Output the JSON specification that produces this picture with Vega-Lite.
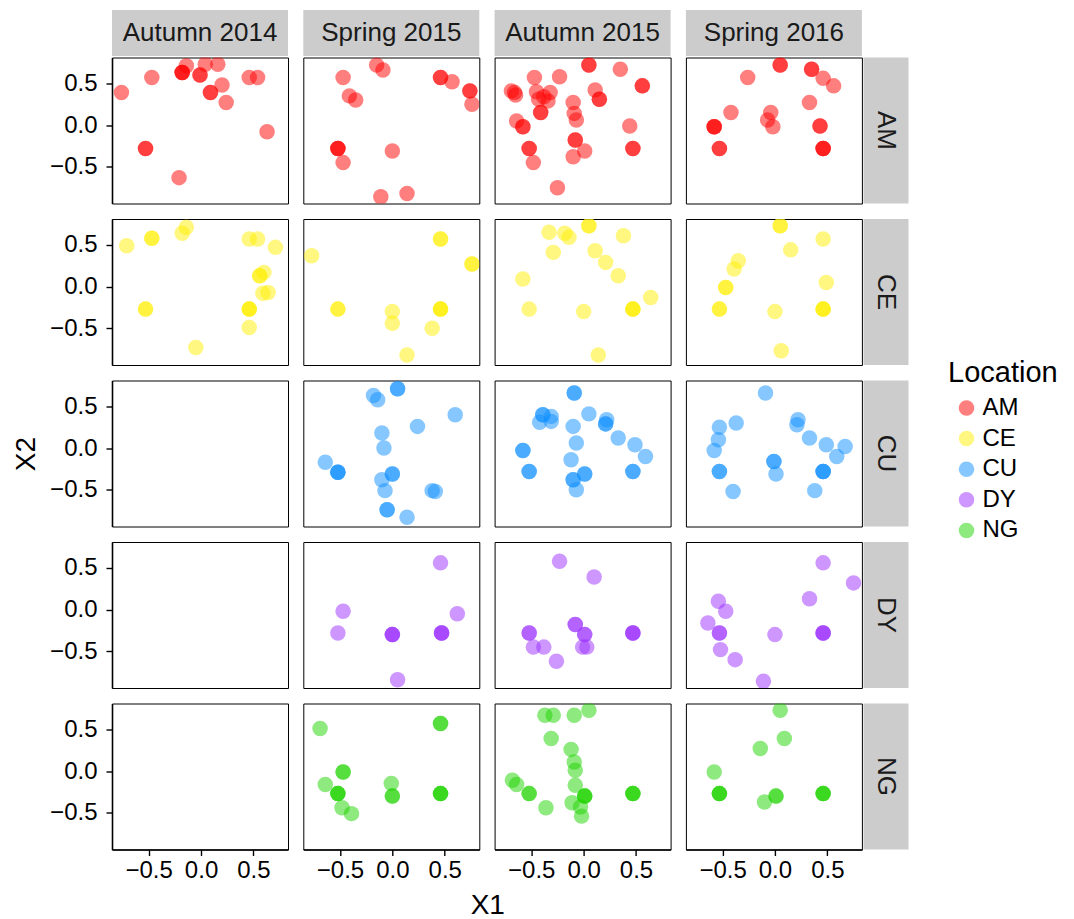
{
"$schema":"https://vega.github.io/schema/vega-lite/v6.json",
"padding":{"left":11,"top":10,"right":5,"bottom":5},
"background":"white",
"config":{
"font":"Liberation Sans",
"view":{"stroke":"#000000","strokeWidth":1},
"axis":{"grid":false,"domainColor":"#000000","domainWidth":1.6,"tickColor":"#000000","tickWidth":1.4,"tickSize":6,"labelFontSize":24,"labelColor":"#000000","labelFont":"Liberation Sans","titleFont":"Liberation Sans","titleFontSize":28,"titleFontWeight":"normal","titleColor":"#000000"},
"axisX":{"labelPadding":3},
"axisY":{"labelPadding":9,"titlePadding":10},
"legend":{"orient":"none","legendX":836,"legendY":349,"titleFontSize":29,"titleFontWeight":"normal","titleColor":"#000000","labelFontSize":24,"labelColor":"#000000","symbolSize":240,"symbolType":"circle","symbolOpacity":0.5,"rowPadding":6.6,"titlePadding":8,"symbolOffset":6.5,"labelOffset":4,"symbolStrokeWidth":0},
"range":{"category":["#FF0000","#FFEF00","#1090FF","#9B30FF","#1ED400"]},
"text":{"fontSize":26,"color":"#1A1A1A","font":"Liberation Sans"}
},
"data":{"values":[
{"S":"Autumn 2014","Location":"AM","X1":-0.76,"X2":0.39},
{"S":"Autumn 2014","Location":"AM","X1":-0.47,"X2":0.57},
{"S":"Autumn 2014","Location":"AM","X1":-0.14,"X2":0.71},
{"S":"Autumn 2014","Location":"AM","X1":-0.18,"X2":0.63},
{"S":"Autumn 2014","Location":"AM","X1":-0.18,"X2":0.63},
{"S":"Autumn 2014","Location":"AM","X1":-0.18,"X2":0.63},
{"S":"Autumn 2014","Location":"AM","X1":-0.01,"X2":0.60},
{"S":"Autumn 2014","Location":"AM","X1":-0.01,"X2":0.60},
{"S":"Autumn 2014","Location":"AM","X1":0.04,"X2":0.73},
{"S":"Autumn 2014","Location":"AM","X1":0.16,"X2":0.73},
{"S":"Autumn 2014","Location":"AM","X1":0.20,"X2":0.48},
{"S":"Autumn 2014","Location":"AM","X1":0.09,"X2":0.39},
{"S":"Autumn 2014","Location":"AM","X1":0.09,"X2":0.39},
{"S":"Autumn 2014","Location":"AM","X1":0.24,"X2":0.27},
{"S":"Autumn 2014","Location":"AM","X1":0.46,"X2":0.57},
{"S":"Autumn 2014","Location":"AM","X1":0.54,"X2":0.57},
{"S":"Autumn 2014","Location":"AM","X1":0.63,"X2":-0.08},
{"S":"Autumn 2014","Location":"AM","X1":-0.53,"X2":-0.28},
{"S":"Autumn 2014","Location":"AM","X1":-0.53,"X2":-0.28},
{"S":"Autumn 2014","Location":"AM","X1":-0.21,"X2":-0.63},
{"S":"Spring 2015","Location":"AM","X1":-0.47,"X2":0.57},
{"S":"Spring 2015","Location":"AM","X1":-0.15,"X2":0.72},
{"S":"Spring 2015","Location":"AM","X1":-0.09,"X2":0.66},
{"S":"Spring 2015","Location":"AM","X1":-0.41,"X2":0.35},
{"S":"Spring 2015","Location":"AM","X1":-0.35,"X2":0.30},
{"S":"Spring 2015","Location":"AM","X1":0.46,"X2":0.57},
{"S":"Spring 2015","Location":"AM","X1":0.46,"X2":0.57},
{"S":"Spring 2015","Location":"AM","X1":0.57,"X2":0.52},
{"S":"Spring 2015","Location":"AM","X1":0.74,"X2":0.41},
{"S":"Spring 2015","Location":"AM","X1":0.74,"X2":0.41},
{"S":"Spring 2015","Location":"AM","X1":0.76,"X2":0.25},
{"S":"Spring 2015","Location":"AM","X1":-0.52,"X2":-0.28},
{"S":"Spring 2015","Location":"AM","X1":-0.52,"X2":-0.28},
{"S":"Spring 2015","Location":"AM","X1":-0.52,"X2":-0.28},
{"S":"Spring 2015","Location":"AM","X1":-0.47,"X2":-0.45},
{"S":"Spring 2015","Location":"AM","X1":0.00,"X2":-0.31},
{"S":"Spring 2015","Location":"AM","X1":-0.11,"X2":-0.86},
{"S":"Spring 2015","Location":"AM","X1":0.14,"X2":-0.82},
{"S":"Autumn 2015","Location":"AM","X1":-0.69,"X2":0.41},
{"S":"Autumn 2015","Location":"AM","X1":-0.65,"X2":0.36},
{"S":"Autumn 2015","Location":"AM","X1":-0.66,"X2":0.39},
{"S":"Autumn 2015","Location":"AM","X1":-0.47,"X2":0.57},
{"S":"Autumn 2015","Location":"AM","X1":-0.23,"X2":0.58},
{"S":"Autumn 2015","Location":"AM","X1":0.05,"X2":0.72},
{"S":"Autumn 2015","Location":"AM","X1":0.05,"X2":0.72},
{"S":"Autumn 2015","Location":"AM","X1":0.35,"X2":0.67},
{"S":"Autumn 2015","Location":"AM","X1":0.56,"X2":0.47},
{"S":"Autumn 2015","Location":"AM","X1":0.56,"X2":0.47},
{"S":"Autumn 2015","Location":"AM","X1":-0.45,"X2":0.40},
{"S":"Autumn 2015","Location":"AM","X1":-0.43,"X2":0.31},
{"S":"Autumn 2015","Location":"AM","X1":-0.38,"X2":0.34},
{"S":"Autumn 2015","Location":"AM","X1":-0.32,"X2":0.39},
{"S":"Autumn 2015","Location":"AM","X1":-0.34,"X2":0.29},
{"S":"Autumn 2015","Location":"AM","X1":-0.41,"X2":0.15},
{"S":"Autumn 2015","Location":"AM","X1":-0.41,"X2":0.15},
{"S":"Autumn 2015","Location":"AM","X1":-0.10,"X2":0.27},
{"S":"Autumn 2015","Location":"AM","X1":-0.09,"X2":0.14},
{"S":"Autumn 2015","Location":"AM","X1":-0.07,"X2":0.06},
{"S":"Autumn 2015","Location":"AM","X1":0.11,"X2":0.42},
{"S":"Autumn 2015","Location":"AM","X1":0.15,"X2":0.31},
{"S":"Autumn 2015","Location":"AM","X1":0.15,"X2":0.31},
{"S":"Autumn 2015","Location":"AM","X1":-0.64,"X2":0.05},
{"S":"Autumn 2015","Location":"AM","X1":-0.58,"X2":-0.02},
{"S":"Autumn 2015","Location":"AM","X1":-0.58,"X2":-0.02},
{"S":"Autumn 2015","Location":"AM","X1":0.44,"X2":-0.01},
{"S":"Autumn 2015","Location":"AM","X1":-0.52,"X2":-0.28},
{"S":"Autumn 2015","Location":"AM","X1":-0.52,"X2":-0.28},
{"S":"Autumn 2015","Location":"AM","X1":-0.48,"X2":-0.45},
{"S":"Autumn 2015","Location":"AM","X1":-0.08,"X2":-0.18},
{"S":"Autumn 2015","Location":"AM","X1":-0.08,"X2":-0.18},
{"S":"Autumn 2015","Location":"AM","X1":0.01,"X2":-0.31},
{"S":"Autumn 2015","Location":"AM","X1":-0.10,"X2":-0.38},
{"S":"Autumn 2015","Location":"AM","X1":0.47,"X2":-0.28},
{"S":"Autumn 2015","Location":"AM","X1":0.47,"X2":-0.28},
{"S":"Autumn 2015","Location":"AM","X1":-0.25,"X2":-0.75},
{"S":"Spring 2016","Location":"AM","X1":0.05,"X2":0.72},
{"S":"Spring 2016","Location":"AM","X1":0.05,"X2":0.72},
{"S":"Spring 2016","Location":"AM","X1":0.35,"X2":0.67},
{"S":"Spring 2016","Location":"AM","X1":0.35,"X2":0.67},
{"S":"Spring 2016","Location":"AM","X1":0.46,"X2":0.56},
{"S":"Spring 2016","Location":"AM","X1":0.56,"X2":0.47},
{"S":"Spring 2016","Location":"AM","X1":-0.26,"X2":0.57},
{"S":"Spring 2016","Location":"AM","X1":0.33,"X2":0.27},
{"S":"Spring 2016","Location":"AM","X1":-0.42,"X2":0.15},
{"S":"Spring 2016","Location":"AM","X1":-0.04,"X2":0.15},
{"S":"Spring 2016","Location":"AM","X1":-0.07,"X2":0.06},
{"S":"Spring 2016","Location":"AM","X1":-0.02,"X2":-0.02},
{"S":"Spring 2016","Location":"AM","X1":-0.58,"X2":-0.02},
{"S":"Spring 2016","Location":"AM","X1":-0.58,"X2":-0.02},
{"S":"Spring 2016","Location":"AM","X1":-0.58,"X2":-0.02},
{"S":"Spring 2016","Location":"AM","X1":0.43,"X2":-0.01},
{"S":"Spring 2016","Location":"AM","X1":0.43,"X2":-0.01},
{"S":"Spring 2016","Location":"AM","X1":-0.53,"X2":-0.28},
{"S":"Spring 2016","Location":"AM","X1":-0.53,"X2":-0.28},
{"S":"Spring 2016","Location":"AM","X1":0.46,"X2":-0.28},
{"S":"Spring 2016","Location":"AM","X1":0.46,"X2":-0.28},
{"S":"Spring 2016","Location":"AM","X1":0.46,"X2":-0.28},
{"S":"Autumn 2014","Location":"CE","X1":-0.71,"X2":0.49},
{"S":"Autumn 2014","Location":"CE","X1":-0.47,"X2":0.58},
{"S":"Autumn 2014","Location":"CE","X1":-0.47,"X2":0.58},
{"S":"Autumn 2014","Location":"CE","X1":-0.18,"X2":0.64},
{"S":"Autumn 2014","Location":"CE","X1":-0.14,"X2":0.71},
{"S":"Autumn 2014","Location":"CE","X1":0.46,"X2":0.57},
{"S":"Autumn 2014","Location":"CE","X1":0.54,"X2":0.57},
{"S":"Autumn 2014","Location":"CE","X1":0.71,"X2":0.47},
{"S":"Autumn 2014","Location":"CE","X1":0.60,"X2":0.17},
{"S":"Autumn 2014","Location":"CE","X1":0.56,"X2":0.13},
{"S":"Autumn 2014","Location":"CE","X1":0.56,"X2":0.13},
{"S":"Autumn 2014","Location":"CE","X1":0.59,"X2":-0.08},
{"S":"Autumn 2014","Location":"CE","X1":0.64,"X2":-0.07},
{"S":"Autumn 2014","Location":"CE","X1":-0.53,"X2":-0.27},
{"S":"Autumn 2014","Location":"CE","X1":-0.53,"X2":-0.27},
{"S":"Autumn 2014","Location":"CE","X1":0.46,"X2":-0.27},
{"S":"Autumn 2014","Location":"CE","X1":0.46,"X2":-0.27},
{"S":"Autumn 2014","Location":"CE","X1":0.46,"X2":-0.27},
{"S":"Autumn 2014","Location":"CE","X1":0.46,"X2":-0.49},
{"S":"Autumn 2014","Location":"CE","X1":-0.05,"X2":-0.73},
{"S":"Spring 2015","Location":"CE","X1":-0.77,"X2":0.37},
{"S":"Spring 2015","Location":"CE","X1":0.46,"X2":0.57},
{"S":"Spring 2015","Location":"CE","X1":0.46,"X2":0.57},
{"S":"Spring 2015","Location":"CE","X1":0.76,"X2":0.27},
{"S":"Spring 2015","Location":"CE","X1":0.76,"X2":0.27},
{"S":"Spring 2015","Location":"CE","X1":-0.52,"X2":-0.27},
{"S":"Spring 2015","Location":"CE","X1":-0.52,"X2":-0.27},
{"S":"Spring 2015","Location":"CE","X1":0.00,"X2":-0.30},
{"S":"Spring 2015","Location":"CE","X1":0.00,"X2":-0.44},
{"S":"Spring 2015","Location":"CE","X1":0.46,"X2":-0.27},
{"S":"Spring 2015","Location":"CE","X1":0.46,"X2":-0.27},
{"S":"Spring 2015","Location":"CE","X1":0.46,"X2":-0.27},
{"S":"Spring 2015","Location":"CE","X1":0.38,"X2":-0.50},
{"S":"Spring 2015","Location":"CE","X1":0.14,"X2":-0.82},
{"S":"Autumn 2015","Location":"CE","X1":-0.33,"X2":0.65},
{"S":"Autumn 2015","Location":"CE","X1":-0.18,"X2":0.64},
{"S":"Autumn 2015","Location":"CE","X1":-0.14,"X2":0.59},
{"S":"Autumn 2015","Location":"CE","X1":0.05,"X2":0.73},
{"S":"Autumn 2015","Location":"CE","X1":0.05,"X2":0.73},
{"S":"Autumn 2015","Location":"CE","X1":0.38,"X2":0.61},
{"S":"Autumn 2015","Location":"CE","X1":-0.29,"X2":0.41},
{"S":"Autumn 2015","Location":"CE","X1":0.11,"X2":0.43},
{"S":"Autumn 2015","Location":"CE","X1":0.21,"X2":0.29},
{"S":"Autumn 2015","Location":"CE","X1":0.33,"X2":0.13},
{"S":"Autumn 2015","Location":"CE","X1":-0.58,"X2":0.09},
{"S":"Autumn 2015","Location":"CE","X1":0.64,"X2":-0.13},
{"S":"Autumn 2015","Location":"CE","X1":-0.52,"X2":-0.27},
{"S":"Autumn 2015","Location":"CE","X1":0.00,"X2":-0.30},
{"S":"Autumn 2015","Location":"CE","X1":0.47,"X2":-0.27},
{"S":"Autumn 2015","Location":"CE","X1":0.47,"X2":-0.27},
{"S":"Autumn 2015","Location":"CE","X1":0.47,"X2":-0.27},
{"S":"Autumn 2015","Location":"CE","X1":0.14,"X2":-0.82},
{"S":"Spring 2016","Location":"CE","X1":0.05,"X2":0.73},
{"S":"Spring 2016","Location":"CE","X1":0.05,"X2":0.73},
{"S":"Spring 2016","Location":"CE","X1":0.46,"X2":0.57},
{"S":"Spring 2016","Location":"CE","X1":0.15,"X2":0.44},
{"S":"Spring 2016","Location":"CE","X1":-0.35,"X2":0.31},
{"S":"Spring 2016","Location":"CE","X1":-0.39,"X2":0.21},
{"S":"Spring 2016","Location":"CE","X1":-0.47,"X2":-0.01},
{"S":"Spring 2016","Location":"CE","X1":-0.47,"X2":-0.01},
{"S":"Spring 2016","Location":"CE","X1":0.49,"X2":0.05},
{"S":"Spring 2016","Location":"CE","X1":-0.53,"X2":-0.27},
{"S":"Spring 2016","Location":"CE","X1":-0.53,"X2":-0.27},
{"S":"Spring 2016","Location":"CE","X1":0.00,"X2":-0.30},
{"S":"Spring 2016","Location":"CE","X1":0.46,"X2":-0.27},
{"S":"Spring 2016","Location":"CE","X1":0.46,"X2":-0.27},
{"S":"Spring 2016","Location":"CE","X1":0.46,"X2":-0.27},
{"S":"Spring 2016","Location":"CE","X1":0.06,"X2":-0.77},
{"S":"Spring 2015","Location":"CU","X1":-0.18,"X2":0.63},
{"S":"Spring 2015","Location":"CU","X1":-0.14,"X2":0.58},
{"S":"Spring 2015","Location":"CU","X1":0.05,"X2":0.71},
{"S":"Spring 2015","Location":"CU","X1":0.05,"X2":0.71},
{"S":"Spring 2015","Location":"CU","X1":0.60,"X2":0.40},
{"S":"Spring 2015","Location":"CU","X1":0.24,"X2":0.26},
{"S":"Spring 2015","Location":"CU","X1":-0.10,"X2":0.18},
{"S":"Spring 2015","Location":"CU","X1":-0.08,"X2":0.00},
{"S":"Spring 2015","Location":"CU","X1":-0.64,"X2":-0.17},
{"S":"Spring 2015","Location":"CU","X1":-0.52,"X2":-0.29},
{"S":"Spring 2015","Location":"CU","X1":-0.52,"X2":-0.29},
{"S":"Spring 2015","Location":"CU","X1":-0.52,"X2":-0.29},
{"S":"Spring 2015","Location":"CU","X1":-0.10,"X2":-0.38},
{"S":"Spring 2015","Location":"CU","X1":0.00,"X2":-0.31},
{"S":"Spring 2015","Location":"CU","X1":0.00,"X2":-0.31},
{"S":"Spring 2015","Location":"CU","X1":-0.07,"X2":-0.51},
{"S":"Spring 2015","Location":"CU","X1":0.38,"X2":-0.51},
{"S":"Spring 2015","Location":"CU","X1":0.41,"X2":-0.52},
{"S":"Spring 2015","Location":"CU","X1":-0.05,"X2":-0.74},
{"S":"Spring 2015","Location":"CU","X1":-0.05,"X2":-0.74},
{"S":"Spring 2015","Location":"CU","X1":0.14,"X2":-0.83},
{"S":"Autumn 2015","Location":"CU","X1":-0.09,"X2":0.66},
{"S":"Autumn 2015","Location":"CU","X1":-0.09,"X2":0.66},
{"S":"Autumn 2015","Location":"CU","X1":-0.39,"X2":0.40},
{"S":"Autumn 2015","Location":"CU","X1":-0.39,"X2":0.40},
{"S":"Autumn 2015","Location":"CU","X1":-0.31,"X2":0.38},
{"S":"Autumn 2015","Location":"CU","X1":-0.42,"X2":0.31},
{"S":"Autumn 2015","Location":"CU","X1":-0.31,"X2":0.32},
{"S":"Autumn 2015","Location":"CU","X1":0.05,"X2":0.41},
{"S":"Autumn 2015","Location":"CU","X1":-0.10,"X2":0.26},
{"S":"Autumn 2015","Location":"CU","X1":0.22,"X2":0.34},
{"S":"Autumn 2015","Location":"CU","X1":0.21,"X2":0.29},
{"S":"Autumn 2015","Location":"CU","X1":0.21,"X2":0.29},
{"S":"Autumn 2015","Location":"CU","X1":0.33,"X2":0.12},
{"S":"Autumn 2015","Location":"CU","X1":0.49,"X2":0.04},
{"S":"Autumn 2015","Location":"CU","X1":0.59,"X2":-0.10},
{"S":"Autumn 2015","Location":"CU","X1":-0.58,"X2":-0.03},
{"S":"Autumn 2015","Location":"CU","X1":-0.58,"X2":-0.03},
{"S":"Autumn 2015","Location":"CU","X1":-0.07,"X2":0.06},
{"S":"Autumn 2015","Location":"CU","X1":-0.12,"X2":-0.14},
{"S":"Autumn 2015","Location":"CU","X1":-0.52,"X2":-0.28},
{"S":"Autumn 2015","Location":"CU","X1":-0.52,"X2":-0.28},
{"S":"Autumn 2015","Location":"CU","X1":-0.10,"X2":-0.38},
{"S":"Autumn 2015","Location":"CU","X1":-0.10,"X2":-0.38},
{"S":"Autumn 2015","Location":"CU","X1":0.01,"X2":-0.31},
{"S":"Autumn 2015","Location":"CU","X1":0.01,"X2":-0.31},
{"S":"Autumn 2015","Location":"CU","X1":-0.07,"X2":-0.50},
{"S":"Autumn 2015","Location":"CU","X1":0.47,"X2":-0.28},
{"S":"Autumn 2015","Location":"CU","X1":0.47,"X2":-0.28},
{"S":"Spring 2016","Location":"CU","X1":-0.09,"X2":0.66},
{"S":"Spring 2016","Location":"CU","X1":-0.37,"X2":0.30},
{"S":"Spring 2016","Location":"CU","X1":-0.53,"X2":0.25},
{"S":"Spring 2016","Location":"CU","X1":-0.54,"X2":0.10},
{"S":"Spring 2016","Location":"CU","X1":-0.58,"X2":-0.03},
{"S":"Spring 2016","Location":"CU","X1":0.22,"X2":0.34},
{"S":"Spring 2016","Location":"CU","X1":0.21,"X2":0.28},
{"S":"Spring 2016","Location":"CU","X1":0.33,"X2":0.12},
{"S":"Spring 2016","Location":"CU","X1":0.49,"X2":0.04},
{"S":"Spring 2016","Location":"CU","X1":0.67,"X2":0.02},
{"S":"Spring 2016","Location":"CU","X1":0.59,"X2":-0.10},
{"S":"Spring 2016","Location":"CU","X1":-0.53,"X2":-0.28},
{"S":"Spring 2016","Location":"CU","X1":-0.53,"X2":-0.28},
{"S":"Spring 2016","Location":"CU","X1":-0.01,"X2":-0.16},
{"S":"Spring 2016","Location":"CU","X1":-0.01,"X2":-0.16},
{"S":"Spring 2016","Location":"CU","X1":0.01,"X2":-0.31},
{"S":"Spring 2016","Location":"CU","X1":0.46,"X2":-0.28},
{"S":"Spring 2016","Location":"CU","X1":0.46,"X2":-0.28},
{"S":"Spring 2016","Location":"CU","X1":0.46,"X2":-0.28},
{"S":"Spring 2016","Location":"CU","X1":-0.40,"X2":-0.52},
{"S":"Spring 2016","Location":"CU","X1":0.38,"X2":-0.51},
{"S":"Spring 2015","Location":"DY","X1":0.46,"X2":0.56},
{"S":"Spring 2015","Location":"DY","X1":-0.47,"X2":-0.02},
{"S":"Spring 2015","Location":"DY","X1":0.62,"X2":-0.05},
{"S":"Spring 2015","Location":"DY","X1":-0.52,"X2":-0.28},
{"S":"Spring 2015","Location":"DY","X1":0.00,"X2":-0.30},
{"S":"Spring 2015","Location":"DY","X1":0.00,"X2":-0.30},
{"S":"Spring 2015","Location":"DY","X1":0.00,"X2":-0.30},
{"S":"Spring 2015","Location":"DY","X1":0.47,"X2":-0.28},
{"S":"Spring 2015","Location":"DY","X1":0.47,"X2":-0.28},
{"S":"Spring 2015","Location":"DY","X1":0.47,"X2":-0.28},
{"S":"Spring 2015","Location":"DY","X1":0.05,"X2":-0.84},
{"S":"Autumn 2015","Location":"DY","X1":-0.23,"X2":0.58},
{"S":"Autumn 2015","Location":"DY","X1":0.10,"X2":0.39},
{"S":"Autumn 2015","Location":"DY","X1":-0.52,"X2":-0.28},
{"S":"Autumn 2015","Location":"DY","X1":-0.52,"X2":-0.28},
{"S":"Autumn 2015","Location":"DY","X1":-0.48,"X2":-0.45},
{"S":"Autumn 2015","Location":"DY","X1":-0.38,"X2":-0.45},
{"S":"Autumn 2015","Location":"DY","X1":-0.26,"X2":-0.62},
{"S":"Autumn 2015","Location":"DY","X1":-0.08,"X2":-0.18},
{"S":"Autumn 2015","Location":"DY","X1":-0.08,"X2":-0.18},
{"S":"Autumn 2015","Location":"DY","X1":0.01,"X2":-0.30},
{"S":"Autumn 2015","Location":"DY","X1":0.01,"X2":-0.30},
{"S":"Autumn 2015","Location":"DY","X1":-0.01,"X2":-0.45},
{"S":"Autumn 2015","Location":"DY","X1":0.03,"X2":-0.45},
{"S":"Autumn 2015","Location":"DY","X1":0.47,"X2":-0.28},
{"S":"Autumn 2015","Location":"DY","X1":0.47,"X2":-0.28},
{"S":"Autumn 2015","Location":"DY","X1":0.47,"X2":-0.28},
{"S":"Spring 2016","Location":"DY","X1":0.46,"X2":0.56},
{"S":"Spring 2016","Location":"DY","X1":0.75,"X2":0.32},
{"S":"Spring 2016","Location":"DY","X1":0.33,"X2":0.13},
{"S":"Spring 2016","Location":"DY","X1":-0.54,"X2":0.10},
{"S":"Spring 2016","Location":"DY","X1":-0.47,"X2":-0.02},
{"S":"Spring 2016","Location":"DY","X1":-0.64,"X2":-0.16},
{"S":"Spring 2016","Location":"DY","X1":-0.53,"X2":-0.28},
{"S":"Spring 2016","Location":"DY","X1":-0.53,"X2":-0.28},
{"S":"Spring 2016","Location":"DY","X1":0.00,"X2":-0.30},
{"S":"Spring 2016","Location":"DY","X1":0.46,"X2":-0.28},
{"S":"Spring 2016","Location":"DY","X1":0.46,"X2":-0.28},
{"S":"Spring 2016","Location":"DY","X1":0.46,"X2":-0.28},
{"S":"Spring 2016","Location":"DY","X1":-0.52,"X2":-0.48},
{"S":"Spring 2016","Location":"DY","X1":-0.38,"X2":-0.60},
{"S":"Spring 2016","Location":"DY","X1":-0.11,"X2":-0.86},
{"S":"Spring 2015","Location":"NG","X1":-0.69,"X2":0.51},
{"S":"Spring 2015","Location":"NG","X1":0.46,"X2":0.57},
{"S":"Spring 2015","Location":"NG","X1":0.46,"X2":0.57},
{"S":"Spring 2015","Location":"NG","X1":-0.47,"X2":-0.01},
{"S":"Spring 2015","Location":"NG","X1":-0.47,"X2":-0.01},
{"S":"Spring 2015","Location":"NG","X1":-0.64,"X2":-0.16},
{"S":"Spring 2015","Location":"NG","X1":-0.52,"X2":-0.27},
{"S":"Spring 2015","Location":"NG","X1":-0.52,"X2":-0.27},
{"S":"Spring 2015","Location":"NG","X1":-0.52,"X2":-0.27},
{"S":"Spring 2015","Location":"NG","X1":-0.48,"X2":-0.44},
{"S":"Spring 2015","Location":"NG","X1":-0.39,"X2":-0.51},
{"S":"Spring 2015","Location":"NG","X1":-0.01,"X2":-0.15},
{"S":"Spring 2015","Location":"NG","X1":0.00,"X2":-0.30},
{"S":"Spring 2015","Location":"NG","X1":0.00,"X2":-0.30},
{"S":"Spring 2015","Location":"NG","X1":0.46,"X2":-0.27},
{"S":"Spring 2015","Location":"NG","X1":0.46,"X2":-0.27},
{"S":"Spring 2015","Location":"NG","X1":0.46,"X2":-0.27},
{"S":"Autumn 2015","Location":"NG","X1":-0.37,"X2":0.67},
{"S":"Autumn 2015","Location":"NG","X1":-0.29,"X2":0.67},
{"S":"Autumn 2015","Location":"NG","X1":-0.09,"X2":0.67},
{"S":"Autumn 2015","Location":"NG","X1":0.05,"X2":0.73},
{"S":"Autumn 2015","Location":"NG","X1":-0.31,"X2":0.39},
{"S":"Autumn 2015","Location":"NG","X1":-0.12,"X2":0.26},
{"S":"Autumn 2015","Location":"NG","X1":-0.09,"X2":0.11},
{"S":"Autumn 2015","Location":"NG","X1":-0.08,"X2":0.01},
{"S":"Autumn 2015","Location":"NG","X1":-0.68,"X2":-0.11},
{"S":"Autumn 2015","Location":"NG","X1":-0.64,"X2":-0.16},
{"S":"Autumn 2015","Location":"NG","X1":-0.52,"X2":-0.27},
{"S":"Autumn 2015","Location":"NG","X1":-0.52,"X2":-0.27},
{"S":"Autumn 2015","Location":"NG","X1":-0.36,"X2":-0.44},
{"S":"Autumn 2015","Location":"NG","X1":-0.08,"X2":-0.17},
{"S":"Autumn 2015","Location":"NG","X1":0.01,"X2":-0.30},
{"S":"Autumn 2015","Location":"NG","X1":0.01,"X2":-0.30},
{"S":"Autumn 2015","Location":"NG","X1":0.01,"X2":-0.30},
{"S":"Autumn 2015","Location":"NG","X1":-0.11,"X2":-0.38},
{"S":"Autumn 2015","Location":"NG","X1":-0.03,"X2":-0.43},
{"S":"Autumn 2015","Location":"NG","X1":-0.02,"X2":-0.54},
{"S":"Autumn 2015","Location":"NG","X1":0.47,"X2":-0.27},
{"S":"Autumn 2015","Location":"NG","X1":0.47,"X2":-0.27},
{"S":"Autumn 2015","Location":"NG","X1":0.47,"X2":-0.27},
{"S":"Spring 2016","Location":"NG","X1":0.05,"X2":0.73},
{"S":"Spring 2016","Location":"NG","X1":0.09,"X2":0.39},
{"S":"Spring 2016","Location":"NG","X1":-0.14,"X2":0.27},
{"S":"Spring 2016","Location":"NG","X1":-0.58,"X2":-0.01},
{"S":"Spring 2016","Location":"NG","X1":-0.53,"X2":-0.27},
{"S":"Spring 2016","Location":"NG","X1":-0.53,"X2":-0.27},
{"S":"Spring 2016","Location":"NG","X1":-0.53,"X2":-0.27},
{"S":"Spring 2016","Location":"NG","X1":-0.10,"X2":-0.37},
{"S":"Spring 2016","Location":"NG","X1":0.01,"X2":-0.30},
{"S":"Spring 2016","Location":"NG","X1":0.01,"X2":-0.30},
{"S":"Spring 2016","Location":"NG","X1":0.46,"X2":-0.27},
{"S":"Spring 2016","Location":"NG","X1":0.46,"X2":-0.27},
{"S":"Spring 2016","Location":"NG","X1":0.46,"X2":-0.27}
]},
"spacing":0.5,
"vconcat":[
{"spacing":15.3,"bounds":"flush","hconcat":[
{"width":176,"height":46,"data":{"values":[{"T":"Autumn 2014"}]},"view":{"fill":"#CCCCCC","stroke":null},"mark":{"type":"text"},"encoding":{"text":{"field":"T"},"y":{"datum":0.5,"type":"quantitative","scale":{"domain":[0,1]},"axis":{"title":"X2","titleOpacity":0,"values":[0.5],"labelExpr":"'−0.5'","labelOpacity":0,"tickOpacity":0,"domainOpacity":0,"minExtent":62,"maxExtent":62}}}},
{"width":176,"height":46,"data":{"values":[{"T":"Spring 2015"}]},"view":{"fill":"#CCCCCC","stroke":null},"mark":{"type":"text"},"encoding":{"text":{"field":"T"}}},
{"width":176,"height":46,"data":{"values":[{"T":"Autumn 2015"}]},"view":{"fill":"#CCCCCC","stroke":null},"mark":{"type":"text"},"encoding":{"text":{"field":"T"}}},
{"width":176,"height":46,"data":{"values":[{"T":"Spring 2016"}]},"view":{"fill":"#CCCCCC","stroke":null},"mark":{"type":"text"},"encoding":{"text":{"field":"T"}}}
]},
{"spacing":13.5,"vconcat":[
{"spacing":0.5,"hconcat":[{"spacing":15.3,"bounds":"flush","hconcat":[
{"width":176,"height":146,"transform":[{"filter":"datum.S==='Autumn 2014'&&datum.Location==='AM'"}],"mark":{"type":"circle","size":240,"opacity":0.5,"clip":true},"encoding":{"x":{"field":"X1","type":"quantitative","scale":{"domain":[-0.85,0.83],"nice":false,"zero":false},"axis":null},"y":{"field":"X2","type":"quantitative","scale":{"domain":[-0.94,0.81],"nice":false,"zero":false},"axis":{"values":[-0.5,0,0.5],"format":".1f","title":"X2","titleOpacity":0,"minExtent":62,"maxExtent":62}},"color":{"field":"Location","type":"nominal"}}},
{"width":176,"height":146,"transform":[{"filter":"datum.S==='Spring 2015'&&datum.Location==='AM'"}],"mark":{"type":"circle","size":240,"opacity":0.5,"clip":true},"encoding":{"x":{"field":"X1","type":"quantitative","scale":{"domain":[-0.85,0.83],"nice":false,"zero":false},"axis":null},"y":{"field":"X2","type":"quantitative","scale":{"domain":[-0.94,0.81],"nice":false,"zero":false},"axis":null},"color":{"field":"Location","type":"nominal"}}},
{"width":176,"height":146,"transform":[{"filter":"datum.S==='Autumn 2015'&&datum.Location==='AM'"}],"mark":{"type":"circle","size":240,"opacity":0.5,"clip":true},"encoding":{"x":{"field":"X1","type":"quantitative","scale":{"domain":[-0.85,0.83],"nice":false,"zero":false},"axis":null},"y":{"field":"X2","type":"quantitative","scale":{"domain":[-0.94,0.81],"nice":false,"zero":false},"axis":null},"color":{"field":"Location","type":"nominal"}}},
{"width":176,"height":146,"transform":[{"filter":"datum.S==='Spring 2016'&&datum.Location==='AM'"}],"mark":{"type":"circle","size":240,"opacity":0.5,"clip":true},"encoding":{"x":{"field":"X1","type":"quantitative","scale":{"domain":[-0.85,0.83],"nice":false,"zero":false},"axis":null},"y":{"field":"X2","type":"quantitative","scale":{"domain":[-0.94,0.81],"nice":false,"zero":false},"axis":null},"color":{"field":"Location","type":"nominal"}}}
]},
{"width":45,"height":146,"data":{"values":[{"T":"AM"}]},"view":{"fill":"#CCCCCC","stroke":null},"mark":{"type":"text","angle":90},"encoding":{"text":{"field":"T"}}}
]},
{"spacing":0.5,"hconcat":[{"spacing":15.3,"bounds":"flush","hconcat":[
{"width":176,"height":146,"transform":[{"filter":"datum.S==='Autumn 2014'&&datum.Location==='CE'"}],"mark":{"type":"circle","size":240,"opacity":0.5,"clip":true},"encoding":{"x":{"field":"X1","type":"quantitative","scale":{"domain":[-0.85,0.83],"nice":false,"zero":false},"axis":null},"y":{"field":"X2","type":"quantitative","scale":{"domain":[-0.94,0.81],"nice":false,"zero":false},"axis":{"values":[-0.5,0,0.5],"format":".1f","title":"X2","titleOpacity":0,"minExtent":62,"maxExtent":62}},"color":{"field":"Location","type":"nominal"}}},
{"width":176,"height":146,"transform":[{"filter":"datum.S==='Spring 2015'&&datum.Location==='CE'"}],"mark":{"type":"circle","size":240,"opacity":0.5,"clip":true},"encoding":{"x":{"field":"X1","type":"quantitative","scale":{"domain":[-0.85,0.83],"nice":false,"zero":false},"axis":null},"y":{"field":"X2","type":"quantitative","scale":{"domain":[-0.94,0.81],"nice":false,"zero":false},"axis":null},"color":{"field":"Location","type":"nominal"}}},
{"width":176,"height":146,"transform":[{"filter":"datum.S==='Autumn 2015'&&datum.Location==='CE'"}],"mark":{"type":"circle","size":240,"opacity":0.5,"clip":true},"encoding":{"x":{"field":"X1","type":"quantitative","scale":{"domain":[-0.85,0.83],"nice":false,"zero":false},"axis":null},"y":{"field":"X2","type":"quantitative","scale":{"domain":[-0.94,0.81],"nice":false,"zero":false},"axis":null},"color":{"field":"Location","type":"nominal"}}},
{"width":176,"height":146,"transform":[{"filter":"datum.S==='Spring 2016'&&datum.Location==='CE'"}],"mark":{"type":"circle","size":240,"opacity":0.5,"clip":true},"encoding":{"x":{"field":"X1","type":"quantitative","scale":{"domain":[-0.85,0.83],"nice":false,"zero":false},"axis":null},"y":{"field":"X2","type":"quantitative","scale":{"domain":[-0.94,0.81],"nice":false,"zero":false},"axis":null},"color":{"field":"Location","type":"nominal"}}}
]},
{"width":45,"height":146,"data":{"values":[{"T":"CE"}]},"view":{"fill":"#CCCCCC","stroke":null},"mark":{"type":"text","angle":90},"encoding":{"text":{"field":"T"}}}
]},
{"spacing":0.5,"hconcat":[{"spacing":15.3,"bounds":"flush","hconcat":[
{"width":176,"height":146,"transform":[{"filter":"datum.S==='Autumn 2014'&&datum.Location==='CU'"}],"mark":{"type":"circle","size":240,"opacity":0.5,"clip":true},"encoding":{"x":{"field":"X1","type":"quantitative","scale":{"domain":[-0.85,0.83],"nice":false,"zero":false},"axis":null},"y":{"field":"X2","type":"quantitative","scale":{"domain":[-0.94,0.81],"nice":false,"zero":false},"axis":{"values":[-0.5,0,0.5],"format":".1f","title":"X2","titleOpacity":1,"minExtent":62,"maxExtent":62}},"color":{"field":"Location","type":"nominal"}}},
{"width":176,"height":146,"transform":[{"filter":"datum.S==='Spring 2015'&&datum.Location==='CU'"}],"mark":{"type":"circle","size":240,"opacity":0.5,"clip":true},"encoding":{"x":{"field":"X1","type":"quantitative","scale":{"domain":[-0.85,0.83],"nice":false,"zero":false},"axis":null},"y":{"field":"X2","type":"quantitative","scale":{"domain":[-0.94,0.81],"nice":false,"zero":false},"axis":null},"color":{"field":"Location","type":"nominal"}}},
{"width":176,"height":146,"transform":[{"filter":"datum.S==='Autumn 2015'&&datum.Location==='CU'"}],"mark":{"type":"circle","size":240,"opacity":0.5,"clip":true},"encoding":{"x":{"field":"X1","type":"quantitative","scale":{"domain":[-0.85,0.83],"nice":false,"zero":false},"axis":null},"y":{"field":"X2","type":"quantitative","scale":{"domain":[-0.94,0.81],"nice":false,"zero":false},"axis":null},"color":{"field":"Location","type":"nominal"}}},
{"width":176,"height":146,"transform":[{"filter":"datum.S==='Spring 2016'&&datum.Location==='CU'"}],"mark":{"type":"circle","size":240,"opacity":0.5,"clip":true},"encoding":{"x":{"field":"X1","type":"quantitative","scale":{"domain":[-0.85,0.83],"nice":false,"zero":false},"axis":null},"y":{"field":"X2","type":"quantitative","scale":{"domain":[-0.94,0.81],"nice":false,"zero":false},"axis":null},"color":{"field":"Location","type":"nominal"}}}
]},
{"width":45,"height":146,"data":{"values":[{"T":"CU"}]},"view":{"fill":"#CCCCCC","stroke":null},"mark":{"type":"text","angle":90},"encoding":{"text":{"field":"T"}}}
]},
{"spacing":0.5,"hconcat":[{"spacing":15.3,"bounds":"flush","hconcat":[
{"width":176,"height":146,"transform":[{"filter":"datum.S==='Autumn 2014'&&datum.Location==='DY'"}],"mark":{"type":"circle","size":240,"opacity":0.5,"clip":true},"encoding":{"x":{"field":"X1","type":"quantitative","scale":{"domain":[-0.85,0.83],"nice":false,"zero":false},"axis":null},"y":{"field":"X2","type":"quantitative","scale":{"domain":[-0.94,0.81],"nice":false,"zero":false},"axis":{"values":[-0.5,0,0.5],"format":".1f","title":"X2","titleOpacity":0,"minExtent":62,"maxExtent":62}},"color":{"field":"Location","type":"nominal"}}},
{"width":176,"height":146,"transform":[{"filter":"datum.S==='Spring 2015'&&datum.Location==='DY'"}],"mark":{"type":"circle","size":240,"opacity":0.5,"clip":true},"encoding":{"x":{"field":"X1","type":"quantitative","scale":{"domain":[-0.85,0.83],"nice":false,"zero":false},"axis":null},"y":{"field":"X2","type":"quantitative","scale":{"domain":[-0.94,0.81],"nice":false,"zero":false},"axis":null},"color":{"field":"Location","type":"nominal"}}},
{"width":176,"height":146,"transform":[{"filter":"datum.S==='Autumn 2015'&&datum.Location==='DY'"}],"mark":{"type":"circle","size":240,"opacity":0.5,"clip":true},"encoding":{"x":{"field":"X1","type":"quantitative","scale":{"domain":[-0.85,0.83],"nice":false,"zero":false},"axis":null},"y":{"field":"X2","type":"quantitative","scale":{"domain":[-0.94,0.81],"nice":false,"zero":false},"axis":null},"color":{"field":"Location","type":"nominal"}}},
{"width":176,"height":146,"transform":[{"filter":"datum.S==='Spring 2016'&&datum.Location==='DY'"}],"mark":{"type":"circle","size":240,"opacity":0.5,"clip":true},"encoding":{"x":{"field":"X1","type":"quantitative","scale":{"domain":[-0.85,0.83],"nice":false,"zero":false},"axis":null},"y":{"field":"X2","type":"quantitative","scale":{"domain":[-0.94,0.81],"nice":false,"zero":false},"axis":null},"color":{"field":"Location","type":"nominal"}}}
]},
{"width":45,"height":146,"data":{"values":[{"T":"DY"}]},"view":{"fill":"#CCCCCC","stroke":null},"mark":{"type":"text","angle":90},"encoding":{"text":{"field":"T"}}}
]},
{"spacing":0.5,"hconcat":[{"spacing":15.3,"bounds":"flush","hconcat":[
{"width":176,"height":146,"transform":[{"filter":"datum.S==='Autumn 2014'&&datum.Location==='NG'"}],"mark":{"type":"circle","size":240,"opacity":0.5,"clip":true},"encoding":{"x":{"field":"X1","type":"quantitative","scale":{"domain":[-0.85,0.83],"nice":false,"zero":false},"axis":{"values":[-0.5,0,0.5],"format":".1f","title":null}},"y":{"field":"X2","type":"quantitative","scale":{"domain":[-0.94,0.81],"nice":false,"zero":false},"axis":{"values":[-0.5,0,0.5],"format":".1f","title":"X2","titleOpacity":0,"minExtent":62,"maxExtent":62}},"color":{"field":"Location","type":"nominal"}}},
{"width":176,"height":146,"transform":[{"filter":"datum.S==='Spring 2015'&&datum.Location==='NG'"}],"mark":{"type":"circle","size":240,"opacity":0.5,"clip":true},"encoding":{"x":{"field":"X1","type":"quantitative","scale":{"domain":[-0.85,0.83],"nice":false,"zero":false},"axis":{"values":[-0.5,0,0.5],"format":".1f","title":"X1","titleX":184,"titleY":56,"titleBaseline":"middle","titleAlign":"center"}},"y":{"field":"X2","type":"quantitative","scale":{"domain":[-0.94,0.81],"nice":false,"zero":false},"axis":null},"color":{"field":"Location","type":"nominal"}}},
{"width":176,"height":146,"transform":[{"filter":"datum.S==='Autumn 2015'&&datum.Location==='NG'"}],"mark":{"type":"circle","size":240,"opacity":0.5,"clip":true},"encoding":{"x":{"field":"X1","type":"quantitative","scale":{"domain":[-0.85,0.83],"nice":false,"zero":false},"axis":{"values":[-0.5,0,0.5],"format":".1f","title":null}},"y":{"field":"X2","type":"quantitative","scale":{"domain":[-0.94,0.81],"nice":false,"zero":false},"axis":null},"color":{"field":"Location","type":"nominal"}}},
{"width":176,"height":146,"transform":[{"filter":"datum.S==='Spring 2016'&&datum.Location==='NG'"}],"mark":{"type":"circle","size":240,"opacity":0.5,"clip":true},"encoding":{"x":{"field":"X1","type":"quantitative","scale":{"domain":[-0.85,0.83],"nice":false,"zero":false},"axis":{"values":[-0.5,0,0.5],"format":".1f","title":null}},"y":{"field":"X2","type":"quantitative","scale":{"domain":[-0.94,0.81],"nice":false,"zero":false},"axis":null},"color":{"field":"Location","type":"nominal"}}}
]},
{"width":45,"height":146,"data":{"values":[{"T":"NG"}]},"view":{"fill":"#CCCCCC","stroke":null},"mark":{"type":"text","angle":90},"encoding":{"text":{"field":"T"}}}
]}
]}
]
}
